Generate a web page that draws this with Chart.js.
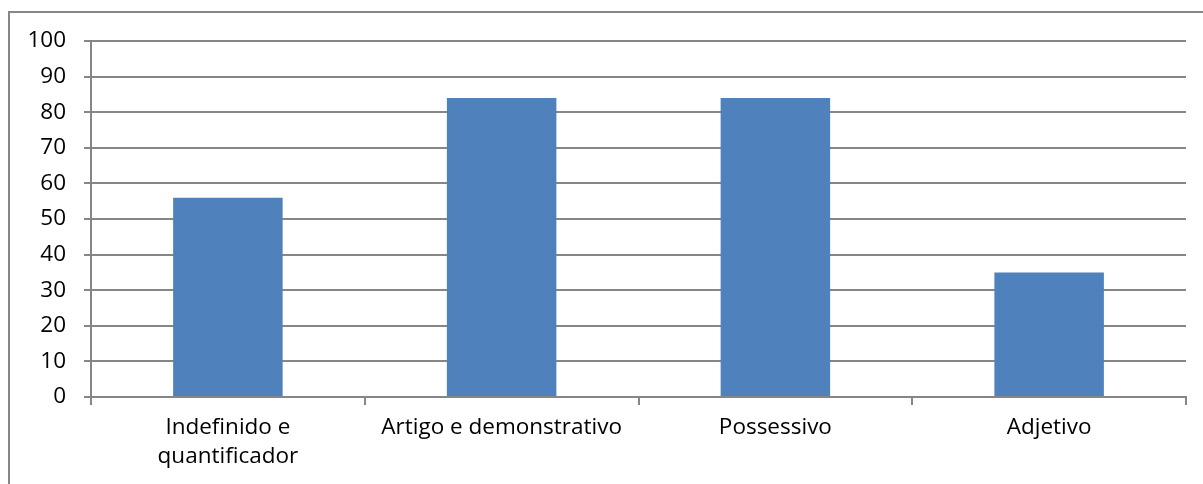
<!DOCTYPE html>
<html>
<head>
<meta charset="utf-8">
<script src="https://cdn.jsdelivr.net/npm/chart.js@4/dist/chart.umd.min.js"></script>
<style>
  html, body { margin: 0; padding: 0; background: #fff; overflow: hidden; }
  #wrap { width: 1203px; height: 484px; position: relative; }
</style>
</head>
<body>
<div id="wrap"><canvas id="barChart"></canvas></div>
<script>
// categorias e valores
const categorias = [['Indefinido e', 'quantificador'], 'Artigo e demonstrativo', 'Possessivo', 'Adjetivo'];
const valores = [56, 84, 84, 35];
const yMin = 0, yMax = 100, yPasso = 10;

// moldura cinza do gráfico (cortada à direita e em baixo)
const moldura = {
    id: 'moldura',
    beforeDraw(chart) {
        const ctx = chart.ctx;
        ctx.save();
        ctx.strokeStyle = '#868686';
        ctx.lineWidth = 2;
        ctx.strokeRect(9, 12, 1400, 700);
        ctx.restore();
    }
};

document.addEventListener('DOMContentLoaded', function() {
    const fonte = { family: '"Open Sans", sans-serif', size: 22.5, lineHeight: 1.25 };
    new Chart(document.getElementById('barChart').getContext('2d'), {
        type: 'bar',
        data: {
            labels: categorias,
            datasets: [{
                data: valores,
                backgroundColor: '#4F81BD',
                borderWidth: 0,
                barPercentage: 0.4,
                categoryPercentage: 1.0
            }]
        },
        options: {
            responsive: true,
            maintainAspectRatio: false,
            animation: false,
            layout: { padding: { left: 10, right: 17, top: 41, bottom: 0 } },
            plugins: { legend: { display: false }, tooltip: { enabled: false } },
            scales: {
                x: {
                    grid: { display: true, drawOnChartArea: false, offset: true, color: '#868686', lineWidth: 2, tickLength: 8 },
                    border: { color: '#868686', width: 2 },
                    ticks: { color: '#000', font: fonte, maxRotation: 0, padding: 9 },
                    afterFit(scale) { scale.height = 87; }
                },
                y: {
                    min: yMin,
                    max: yMax,
                    ticks: { stepSize: yPasso, color: '#000', font: fonte, padding: 18 },
                    grid: { color: '#868686', lineWidth: 2, tickLength: 7 },
                    border: { color: '#868686', width: 2 },
                    afterFit(scale) { scale.width = 81; }
                }
            }
        },
        plugins: [moldura]
    });
});
</script>
</body>
</html>
